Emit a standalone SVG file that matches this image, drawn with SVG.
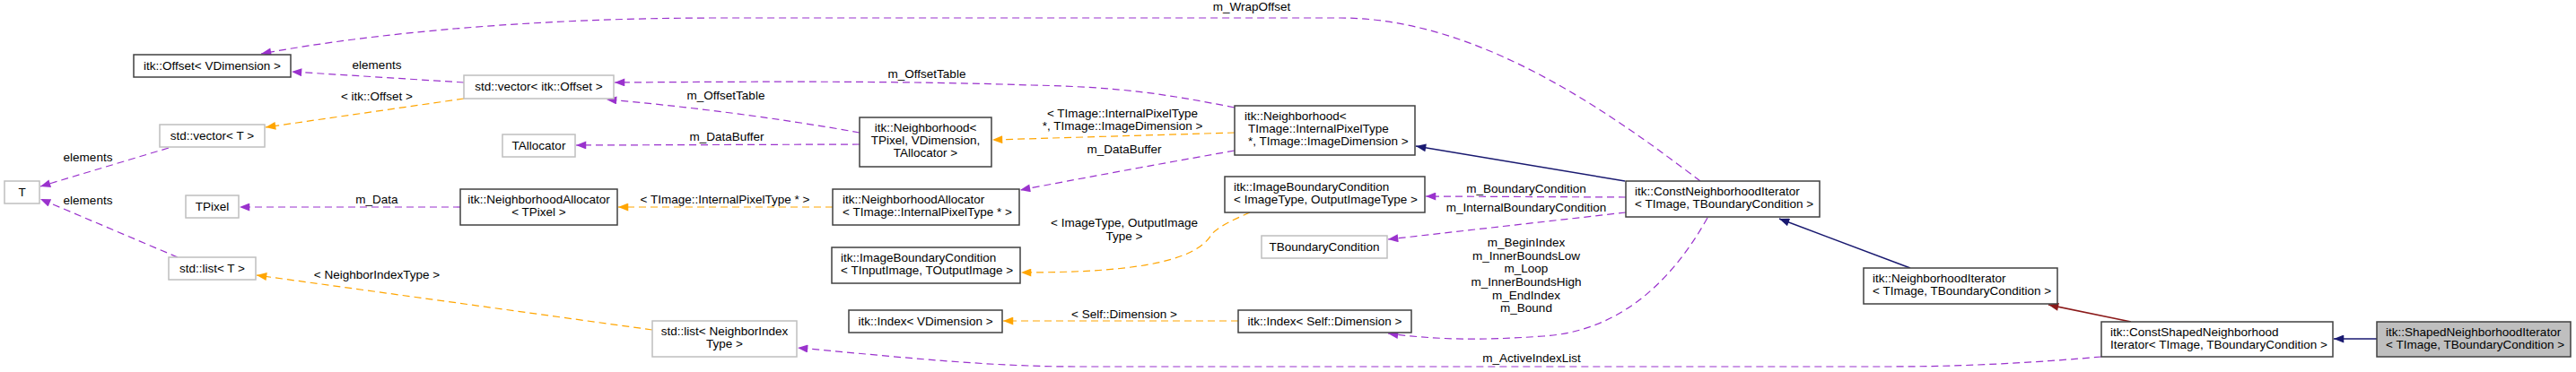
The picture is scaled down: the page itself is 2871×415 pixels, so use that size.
<svg xmlns="http://www.w3.org/2000/svg" width="2871" height="415" viewBox="0 0 2871 415">
<style>
text{font-family:"Liberation Sans",Arial,sans-serif;font-size:13.5px;fill:#000}
.c{text-anchor:middle}
.b{fill:#fff;stroke:#404040;stroke-width:1.5}
.g{fill:#fff;stroke:#bfbfbf;stroke-width:1.5}
.p{fill:none;stroke:#9a32cd;stroke-width:1.2;stroke-dasharray:8,5}
.o{fill:none;stroke:#ffa500;stroke-width:1.2;stroke-dasharray:8,5}
.n{fill:none;stroke:#191970;stroke-width:1.5}
.r{fill:none;stroke:#8b1a1a;stroke-width:1.5}
</style>
<defs>
<marker id="mp" viewBox="0 0 10 8" refX="10" refY="4" markerWidth="12" markerHeight="9" markerUnits="userSpaceOnUse" orient="auto"><path d="M0,0L10,4L0,8z" fill="#9a32cd"/></marker>
<marker id="mo" viewBox="0 0 10 8" refX="10" refY="4" markerWidth="12" markerHeight="9" markerUnits="userSpaceOnUse" orient="auto"><path d="M0,0L10,4L0,8z" fill="#ffa500"/></marker>
<marker id="mn" viewBox="0 0 10 8" refX="10" refY="4" markerWidth="12" markerHeight="9" markerUnits="userSpaceOnUse" orient="auto"><path d="M0,0L10,4L0,8z" fill="#191970"/></marker>
<marker id="mr" viewBox="0 0 10 8" refX="10" refY="4" markerWidth="12" markerHeight="9" markerUnits="userSpaceOnUse" orient="auto"><path d="M0,0L10,4L0,8z" fill="#8b1a1a"/></marker>
</defs>
<g id="edges">
<path class="p" marker-end="url(#mp)" d="M1895,202C1800,130 1650,20 1494,20L800,20C600,20 420,36 291,60"/>
<text x="1395" y="12" class="c">m_WrapOffset</text>
<path class="p" marker-end="url(#mp)" d="M517,92L325,80"/>
<text x="420" y="77" class="c">elements</text>
<path class="o" marker-end="url(#mo)" d="M517,110L296,142"/>
<text x="420" y="112" class="c">&lt; itk::Offset &gt;</text>
<path class="p" marker-end="url(#mp)" d="M1376,120C1300,105 1250,97 1150,95C1000,90 850,91 685,92"/>
<text x="1033" y="87" class="c">m_OffsetTable</text>
<path class="p" marker-end="url(#mp)" d="M958,148C870,132 760,118 676,111"/>
<text x="809" y="111" class="c">m_OffsetTable</text>
<path class="p" marker-end="url(#mp)" d="M958,161L642,162"/>
<text x="810" y="157" class="c">m_DataBuffer</text>
<path class="o" marker-end="url(#mo)" d="M1376,148L1106,156"/>
<text x="1251" y="131" class="c">&lt; TImage::InternalPixelType</text>
<text x="1251" y="145" class="c">*, TImage::ImageDimension &gt;</text>
<path class="p" marker-end="url(#mp)" d="M1376,168C1280,185 1200,200 1137,212"/>
<text x="1253" y="171" class="c">m_DataBuffer</text>
<path class="o" marker-end="url(#mo)" d="M928,231L689,231"/>
<text x="808" y="227" class="c">&lt; TImage::InternalPixelType * &gt;</text>
<path class="p" marker-end="url(#mp)" d="M513,231L267,231"/>
<text x="420" y="227" class="c">m_Data</text>
<path class="p" marker-end="url(#mp)" d="M188,165L45,208"/>
<text x="98" y="180" class="c">elements</text>
<path class="p" marker-end="url(#mp)" d="M198,287L45,222"/>
<text x="98" y="228" class="c">elements</text>
<path class="o" marker-end="url(#mo)" d="M727,368L286,307"/>
<text x="420" y="311" class="c">&lt; NeighborIndexType &gt;</text>
<path class="p" marker-end="url(#mp)" d="M1812,220L1589,219"/>
<text x="1701" y="215" class="c">m_BoundaryCondition</text>
<path class="p" marker-end="url(#mp)" d="M1812,237L1547,267"/>
<text x="1701" y="236" class="c">m_InternalBoundaryCondition</text>
<path class="o" marker-end="url(#mo)" d="M1393,237C1370,247 1355,255 1350,262C1330,295 1250,304 1138,304"/>
<text x="1253" y="253" class="c">&lt; ImageType, OutputImage</text>
<text x="1253" y="268" class="c">Type &gt;</text>
<path class="o" marker-end="url(#mo)" d="M1380,358L1118,358"/>
<text x="1253" y="355" class="c">&lt; Self::Dimension &gt;</text>
<path class="p" marker-end="url(#mp)" d="M1903,243C1860,320 1800,370 1720,375C1650,380 1600,379 1547,372"/>
<text x="1701" y="275" class="c">m_BeginIndex</text>
<text x="1701" y="290" class="c">m_InnerBoundsLow</text>
<text x="1701" y="304" class="c">m_Loop</text>
<text x="1701" y="319" class="c">m_InnerBoundsHigh</text>
<text x="1701" y="334" class="c">m_EndIndex</text>
<text x="1701" y="348" class="c">m_Bound</text>
<path class="p" marker-end="url(#mp)" d="M2342,398C2250,406 2180,409 2100,409L1200,409C1100,409 1000,398 889,388"/>
<text x="1707" y="404" class="c">m_ActiveIndexList</text>
<path class="n" marker-end="url(#mn)" d="M1811,202L1578,163"/>
<path class="n" marker-end="url(#mn)" d="M2129,299L1983,244"/>
<path class="r" marker-end="url(#mr)" d="M2375,359L2283,340"/>
<path class="n" marker-end="url(#mn)" d="M2649,378L2601,378"/>
</g>
<g id="n1"><rect class="b" x="149" y="61" width="175" height="25"/><text x="236.5" y="78" class="c">itk::Offset&lt; VDimension &gt;</text></g>
<g id="n2"><rect class="g" x="178" y="139" width="117" height="25"/><text x="236.5" y="156" class="c">std::vector&lt; T &gt;</text></g>
<g id="n3"><rect class="g" x="5" y="202" width="39" height="25"/><text x="24.5" y="219" class="c">T</text></g>
<g id="n4"><rect class="g" x="207" y="218" width="59" height="25"/><text x="236.5" y="235" class="c">TPixel</text></g>
<g id="n5"><rect class="g" x="188" y="287" width="97" height="25"/><text x="236.5" y="304" class="c">std::list&lt; T &gt;</text></g>
<g id="n6"><rect class="g" x="517" y="84" width="167" height="26"/><text x="600.5" y="101" class="c">std::vector&lt; itk::Offset &gt;</text></g>
<g id="n7"><rect class="g" x="560" y="150" width="81" height="25"/><text x="600.5" y="167" class="c">TAllocator</text></g>
<g id="n8"><rect class="b" x="513" y="211" width="175" height="40"/><text x="600.5" y="227" class="c">itk::NeighborhoodAllocator</text><text x="600.5" y="241" class="c">&lt; TPixel &gt;</text></g>
<g id="n9"><rect class="g" x="727" y="358" width="161" height="40"/><text x="807.5" y="374" class="c">std::list&lt; NeighborIndex</text><text x="807.5" y="388" class="c">Type &gt;</text></g>
<g id="n10"><rect class="b" x="958" y="131" width="147" height="55"/><text x="1031.5" y="147" class="c">itk::Neighborhood&lt;</text><text x="1031.5" y="161" class="c">TPixel, VDimension,</text><text x="1031.5" y="175" class="c">TAllocator &gt;</text></g>
<g id="n11"><rect class="b" x="928" y="211" width="208" height="40"/><text x="939" y="227">itk::NeighborhoodAllocator</text><text x="939" y="241">&lt; TImage::InternalPixelType * &gt;</text></g>
<g id="n12"><rect class="b" x="927" y="276" width="210" height="40"/><text x="937" y="292">itk::ImageBoundaryCondition</text><text x="937" y="306">&lt; TInputImage, TOutputImage &gt;</text></g>
<g id="n13"><rect class="b" x="946" y="346" width="171" height="25"/><text x="1031.5" y="363" class="c">itk::Index&lt; VDimension &gt;</text></g>
<g id="n14"><rect class="b" x="1376" y="118" width="201" height="55"/><text x="1387" y="134">itk::Neighborhood&lt;</text><text x="1391" y="148">TImage::InternalPixelType</text><text x="1391" y="162">*, TImage::ImageDimension &gt;</text></g>
<g id="n15"><rect class="b" x="1365" y="197" width="223" height="40"/><text x="1375" y="213">itk::ImageBoundaryCondition</text><text x="1375" y="227">&lt; ImageType, OutputImageType &gt;</text></g>
<g id="n16"><rect class="g" x="1406" y="263" width="140" height="25"/><text x="1476" y="280" class="c">TBoundaryCondition</text></g>
<g id="n17"><rect class="b" x="1380" y="346" width="193" height="25"/><text x="1476.5" y="363" class="c">itk::Index&lt; Self::Dimension &gt;</text></g>
<g id="n18"><rect class="b" x="1812" y="202" width="216" height="40"/><text x="1822" y="218">itk::ConstNeighborhoodIterator</text><text x="1822" y="232">&lt; TImage, TBoundaryCondition &gt;</text></g>
<g id="n19"><rect class="b" x="2077" y="299" width="216" height="40"/><text x="2087" y="315">itk::NeighborhoodIterator</text><text x="2087" y="329">&lt; TImage, TBoundaryCondition &gt;</text></g>
<g id="n20"><rect class="b" x="2342" y="359" width="258" height="39"/><text x="2352" y="375">itk::ConstShapedNeighborhood</text><text x="2352" y="389">Iterator&lt; TImage, TBoundaryCondition &gt;</text></g>
<g id="n21"><rect x="2649" y="359" width="216" height="39" fill="#bfbfbf" stroke="#404040" stroke-width="1.5"/><text x="2659" y="375">itk::ShapedNeighborhoodIterator</text><text x="2659" y="389">&lt; TImage, TBoundaryCondition &gt;</text></g>
</svg>
